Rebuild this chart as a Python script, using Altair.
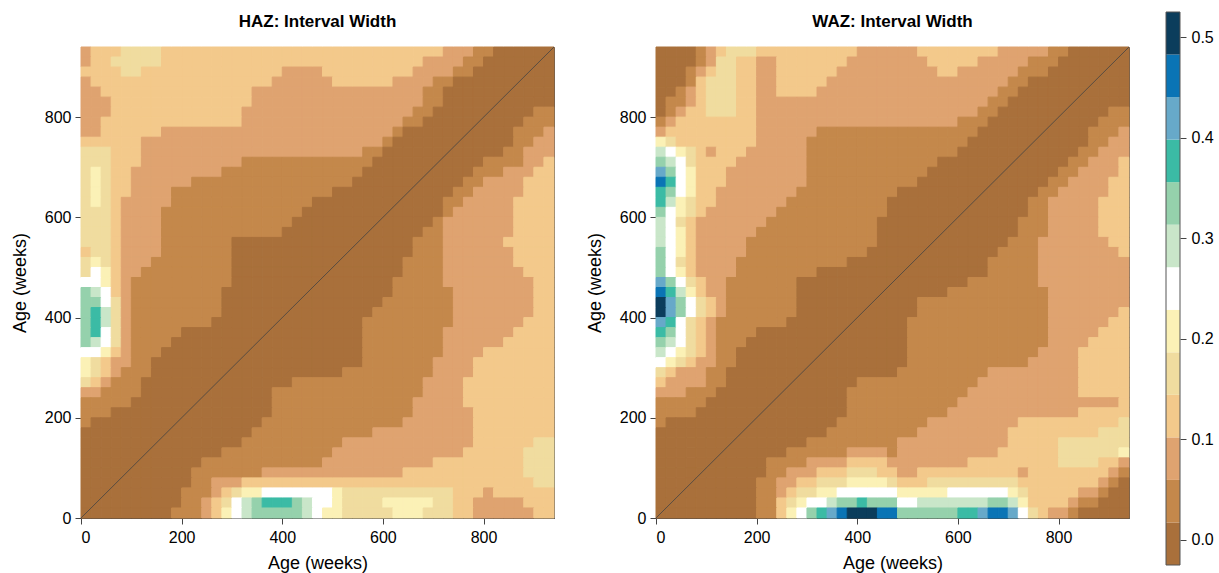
import altair as alt
import pandas as pd

AGE_MAX = 940
CELL = 20
N_CELLS = 47
AXIS_TICKS = [0, 200, 400, 600, 800]
CB_TICKS = [0.0, 0.1, 0.2, 0.3, 0.4, 0.5]
Z_MIN, Z_MAX = -0.025, 0.525
COLORS = ["#A9703B", "#C4884B", "#DFA370", "#F3C98B", "#F0DC9F", "#FBF1B6",
          "#FFFFFF", "#C9E6C9", "#95D1AC", "#3BBBA5", "#67A9C9", "#0A74B5", "#0B3D5C"]
TITLES = ["HAZ: Interval Width", "WAZ: Interval Width"]
AXIS_TITLE = "Age (weeks)"

# Each row (top row first) is a run list "level*count"; level is a colour band index (hex).
HAZ_RUNS = [
    "2*1 3*3 4*4 3*28 2*3 1*2 0*6",
    "2*1 3*2 4*5 3*26 2*4 1*2 0*7",
    "3*4 4*2 3*14 2*4 3*9 2*4 1*2 0*8",
    "2*1 3*18 2*6 3*6 2*4 1*2 0*10",
    "2*2 3*15 2*17 1*2 0*11",
    "2*3 3*14 2*17 1*2 0*11",
    "2*3 3*13 2*17 1*2 0*10 1*2",
    "2*2 3*14 2*16 1*2 0*10 1*3",
    "2*2 3*6 2*23 1*1 0*11 1*3 2*1",
    "3*6 2*24 1*1 0*12 1*2 2*2",
    "4*3 3*3 2*22 1*2 0*12 1*2 2*3",
    "4*3 3*3 2*10 1*13 0*11 1*4 2*2 3*1",
    "4*1 5*1 4*1 3*2 2*9 1*14 0*11 1*3 2*3 3*2",
    "4*1 5*1 4*1 3*2 2*6 1*16 0*11 1*2 2*4 3*3",
    "4*1 5*1 4*1 3*2 2*4 1*16 0*12 1*2 2*5 3*3",
    "4*1 5*1 4*1 3*1 2*5 1*14 0*13 1*2 2*5 3*4",
    "4*3 3*1 2*4 1*14 0*14 1*1 2*6 3*4",
    "4*3 3*1 2*4 1*13 0*14 1*1 2*7 3*4",
    "4*3 3*1 2*4 1*12 0*14 1*2 2*7 3*4",
    "4*3 3*1 2*4 1*7 0*18 1*3 2*6 3*5",
    "3*1 4*2 3*1 2*4 1*7 0*18 1*3 2*7 3*4",
    "4*1 5*1 4*1 3*1 2*3 1*8 0*17 1*4 2*7 3*4",
    "4*1 6*1 5*1 3*1 2*2 1*9 0*17 1*4 2*8 3*3",
    "6*2 5*1 3*1 2*1 1*10 0*16 1*5 2*9 3*2",
    "8*1 7*1 6*1 3*1 2*1 1*9 0*17 1*6 2*8 3*2",
    "8*2 6*1 4*1 2*1 1*9 0*16 1*7 2*8 3*2",
    "8*1 9*1 7*1 4*1 2*1 1*9 0*15 1*8 2*8 3*2",
    "8*1 9*1 7*1 4*1 2*1 1*8 0*15 1*9 2*7 3*3",
    "8*1 9*1 6*1 4*1 2*1 1*5 0*18 1*8 2*7 3*4",
    "8*1 7*1 6*1 4*1 2*1 1*4 0*19 1*8 2*6 3*5",
    "6*2 5*1 3*1 2*1 1*3 0*20 1*8 2*4 3*7",
    "5*1 4*1 3*1 2*2 1*2 0*21 1*7 2*4 3*8",
    "5*1 4*1 3*1 2*1 1*3 0*19 1*9 2*4 3*8",
    "4*1 3*1 2*1 1*3 0*15 1*13 2*4 3*9",
    "2*2 1*4 0*13 1*15 2*4 3*9",
    "1*5 0*14 1*14 2*5 3*9",
    "1*3 0*16 1*14 2*6 3*8",
    "1*1 0*17 1*14 2*7 3*8",
    "0*17 1*12 2*10 3*8",
    "0*16 1*10 2*13 3*6 4*2",
    "0*14 1*11 2*13 3*6 4*3",
    "0*12 1*12 2*11 3*9 4*3",
    "0*11 1*7 2*14 3*12 4*3",
    "0*11 1*2 2*3 3*29 4*2",
    "0*10 1*3 2*1 3*1 4*1 5*2 6*7 5*1 4*11 3*3 2*1 3*6",
    "0*10 1*2 2*1 3*1 4*1 6*1 7*1 8*1 9*3 8*1 7*1 6*2 5*1 4*4 5*5 4*2 3*2 2*5 3*3",
    "0*9 1*3 2*1 3*1 5*1 6*1 7*1 8*5 7*1 6*1 5*2 4*5 5*3 4*3 3*2 2*6 3*2",
]

WAZ_RUNS = [
    "0*4 1*1 2*1 3*1 4*3 3*10 2*6 3*8 2*5 1*2 0*6",
    "0*4 1*1 2*1 4*2 3*2 2*2 3*7 2*8 3*5 2*5 1*3 0*7",
    "0*3 1*1 2*1 3*1 4*2 3*2 2*2 3*6 2*10 3*2 2*6 1*3 0*8",
    "0*3 1*1 3*1 4*3 3*2 2*2 3*5 2*18 1*2 0*10",
    "0*2 1*1 2*1 3*1 4*3 3*2 2*2 3*4 2*18 1*2 0*11",
    "0*1 1*2 2*1 3*1 4*3 3*2 2*23 1*2 0*12",
    "0*1 1*1 2*1 3*2 4*3 3*2 2*22 1*2 0*11 1*2",
    "1*1 2*1 3*8 2*20 1*3 0*11 1*3",
    "2*1 3*9 2*6 1*16 0*11 1*3 2*1",
    "5*1 4*1 3*8 2*5 1*16 0*12 1*2 2*2",
    "7*1 6*1 5*1 4*1 3*1 2*1 3*3 2*6 1*15 0*12 1*2 2*3",
    "8*1 7*1 6*1 4*1 3*4 2*7 1*13 0*13 1*2 2*3 3*1",
    "a*1 8*1 6*1 5*1 3*3 2*8 1*12 0*13 1*2 2*4 3*1",
    "b*1 9*1 6*1 5*1 3*3 2*8 1*11 0*13 1*2 2*4 3*2",
    "9*1 8*1 6*1 5*1 3*2 2*8 1*10 0*14 1*2 2*5 3*2",
    "9*1 7*1 5*1 4*1 3*2 2*7 1*10 0*14 1*2 2*5 3*3",
    "8*1 6*1 5*1 4*1 3*1 2*7 1*11 0*14 1*2 2*5 3*3",
    "7*1 6*1 4*1 3*1 2*7 1*11 0*14 1*3 2*5 3*3",
    "7*1 6*1 5*1 3*1 2*6 1*12 0*14 1*3 2*5 3*3",
    "7*1 6*1 5*1 3*1 2*5 1*13 0*13 1*3 2*7 3*2",
    "8*1 6*1 5*1 3*1 2*5 1*12 0*13 1*4 2*8 3*1",
    "8*1 6*1 4*1 3*1 2*4 1*11 0*14 1*5 2*9",
    "8*1 6*1 5*1 3*1 2*4 1*8 0*17 1*5 2*9",
    "a*1 8*1 6*1 4*1 3*1 2*2 1*7 0*17 1*7 2*9",
    "b*1 9*1 7*1 5*1 3*1 2*2 1*7 0*15 1*10 2*8",
    "c*1 a*1 8*1 6*1 4*1 3*1 2*1 1*7 0*12 1*13 2*8",
    "c*1 a*1 8*1 6*1 4*1 3*1 2*1 1*7 0*12 1*13 2*7 3*1",
    "a*1 9*1 6*1 4*1 3*1 2*1 1*7 0*12 1*14 2*6 3*2",
    "9*1 8*1 6*1 4*1 3*1 2*1 1*4 0*15 1*14 2*5 3*3",
    "8*1 7*1 6*1 4*1 3*1 2*1 1*3 0*16 1*14 2*4 3*4",
    "7*1 6*1 5*1 4*1 3*1 2*1 1*2 0*17 1*13 2*4 3*5",
    "6*1 5*1 4*1 3*1 2*2 1*2 0*17 1*12 2*5 3*5",
    "4*1 3*1 2*3 1*2 0*17 1*9 2*9 3*5",
    "3*1 2*4 1*2 0*13 1*12 2*10 3*5",
    "2*3 1*3 0*13 1*12 2*11 3*5",
    "1*5 0*14 1*11 2*16 3*1",
    "1*4 0*15 1*10 2*13 3*5",
    "1*1 0*17 1*9 2*9 3*10 4*1",
    "0*17 1*9 2*9 3*9 4*3",
    "0*15 1*9 2*11 3*5 4*7",
    "0*13 1*6 2*4 1*1 2*10 3*6 4*6 5*1",
    "0*11 1*4 2*4 3*4 2*8 3*9 4*4 3*2 2*1",
    "0*11 1*2 2*3 3*3 4*3 3*2 2*2 3*10 2*1 3*8 2*1 1*1",
    "0*10 1*2 2*2 3*2 4*3 5*4 4*1 3*3 4*9 3*8 2*1 1*1 0*1",
    "0*10 1*2 2*1 3*1 4*2 5*2 6*6 5*5 6*6 5*1 4*1 3*5 2*2 1*1 0*2",
    "0*10 1*2 3*1 4*1 5*1 6*2 7*1 8*2 9*1 8*3 6*2 7*7 8*2 7*1 5*1 3*4 2*1 1*2 0*3",
    "0*10 1*2 3*1 5*1 6*1 8*1 9*1 a*1 b*1 c*3 b*2 8*6 9*2 a*1 b*2 a*1 6*1 4*1 3*1 2*2 1*1 0*5",
]

PANEL_W, PANEL_H = 473, 471
# colour bar pixel extent relative to the panels' plot area (top = 0)
CB_TOP, CB_BOTTOM = -35, 518
CB_X0, CB_X1 = 5, 19

N_LEVELS = len(COLORS)
STEP = (Z_MAX - Z_MIN) / N_LEVELS
EDGES = [Z_MIN + k * STEP for k in range(N_LEVELS + 1)]
MIDS = [(EDGES[k] + EDGES[k + 1]) / 2 for k in range(N_LEVELS)]


def grid_frame(runs):
    recs = []
    n_rows = len(runs)
    for i, row in enumerate(runs):
        r = n_rows - 1 - i
        c = 0
        for tok in row.split():
            lvl, n = tok.split("*")
            for _ in range(int(n)):
                recs.append({"x": c * CELL, "x2": (c + 1) * CELL,
                             "y": r * CELL, "y2": (r + 1) * CELL,
                             "v": MIDS[int(lvl, 16)]})
                c += 1
        assert c == N_CELLS, (i, c)
    return pd.DataFrame(recs)


cscale = alt.Scale(type="threshold", domain=EDGES[1:-1], range=COLORS)
diag_df = pd.DataFrame({"x": [0], "y": [0], "x2": [AGE_MAX], "y2": [AGE_MAX]})


def panel(runs, title):
    df = grid_frame(runs)
    xs = alt.Scale(domain=[0, AGE_MAX], nice=False, zero=False)
    ys = alt.Scale(domain=[0, AGE_MAX], nice=False, zero=False)
    heat = alt.Chart(df).mark_rect(strokeWidth=1).encode(
        x=alt.X("x:Q", scale=xs, axis=alt.Axis(values=AXIS_TICKS, title=AXIS_TITLE,
                                               labelPadding=5, titlePadding=9)),
        x2="x2:Q",
        y=alt.Y("y:Q", scale=ys, axis=alt.Axis(values=AXIS_TICKS, title=AXIS_TITLE,
                                               labelPadding=4, titlePadding=15)),
        y2="y2:Q",
        color=alt.Color("v:Q", scale=cscale, legend=None),
        stroke=alt.Stroke("v:Q", scale=cscale, legend=None),
    )
    diag = alt.Chart(diag_df).mark_rule(color="#444", strokeWidth=0.8).encode(
        x=alt.X("x:Q", scale=xs), y=alt.Y("y:Q", scale=ys), x2="x2:Q", y2="y2:Q"
    )
    return alt.layer(heat, diag).properties(
        width=PANEL_W, height=PANEL_H,
        title=alt.TitleParams(title, fontSize=17, fontWeight="bold", anchor="middle", offset=16),
    )


cb_scale = alt.Scale(domain=[Z_MIN, Z_MAX], range=[CB_BOTTOM, CB_TOP], nice=False, zero=False)
cb_df = pd.DataFrame({"lo": EDGES[:-1], "hi": EDGES[1:], "v": MIDS})
cb_frame_df = pd.DataFrame({"lo": [Z_MIN], "hi": [Z_MAX]})
cb_bands = alt.Chart(cb_df).mark_rect().encode(
    x=alt.value(CB_X0), x2=alt.value(CB_X1),
    y=alt.Y("lo:Q", scale=cb_scale,
            axis=alt.Axis(orient="right", values=CB_TICKS, format=".1f", title=None,
                          domain=False, labelPadding=5)),
    y2="hi:Q",
    color=alt.Color("v:Q", scale=cscale, legend=None),
)
cb_frame = alt.Chart(cb_frame_df).mark_rect(filled=False, stroke="#555", strokeWidth=1).encode(
    x=alt.value(CB_X0), x2=alt.value(CB_X1),
    y=alt.Y("lo:Q", scale=cb_scale), y2="hi:Q",
)
colorbar = alt.layer(cb_bands, cb_frame).properties(
    width=CB_X1, height=PANEL_H, view=alt.ViewBackground(stroke="transparent")
)

chart = alt.hconcat(
    panel(HAZ_RUNS, TITLES[0]), panel(WAZ_RUNS, TITLES[1]), colorbar,
    spacing=30,
).properties(
    padding={"left": 10, "top": 11, "right": 5, "bottom": 0}
).configure_view(stroke="#555", strokeWidth=1).configure_axis(
    grid=False, labelFont="Liberation Sans", titleFont="Liberation Sans",
    labelFontSize=16, titleFontSize=18, titleFontWeight="normal",
    labelColor="#000", titleColor="#000", tickColor="#444", domainColor="#444",
    tickSize=6,
).configure_title(font="Liberation Sans", color="#000")

chart.save("out.html", embed_options={"renderer": "svg", "actions": False})
